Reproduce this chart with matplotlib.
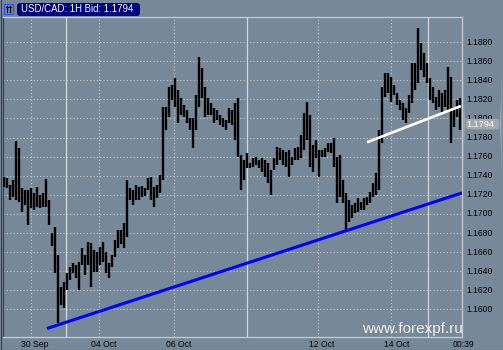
import matplotlib
matplotlib.use("Agg")
import matplotlib.pyplot as plt
from matplotlib.patches import FancyBboxPatch, Rectangle
from matplotlib.lines import Line2D
from matplotlib.transforms import IdentityTransform

plt.rcParams['font.family'] = ['Liberation Sans', 'DejaVu Sans']

# ---- data (hourly bars) ----
highs = [1.1739, 1.1738, 1.1730, 1.1736, 1.1776, 1.1769, 1.1727, 1.1725, 1.1725, 1.1727,
         1.1722, 1.1728, 1.1720, 1.1722, 1.1737, 1.1715, 1.1680, 1.1686, 1.1657, 1.1623,
         1.1629, 1.1638, 1.1644, 1.1649, 1.1647, 1.1650, 1.1664, 1.1657, 1.1671, 1.1670,
         1.1662, 1.1660, 1.1665, 1.1671, 1.1660, 1.1649, 1.1657, 1.1673, 1.1683, 1.1683,
         1.1691, 1.1736, 1.1727, 1.1725, 1.1730, 1.1728, 1.1729, 1.1727, 1.1738, 1.1739,
         1.1728, 1.1730, 1.1741, 1.1812, 1.1812, 1.1833, 1.1835, 1.1842, 1.1830, 1.1821,
         1.1814, 1.1809, 1.1800, 1.1800, 1.1824, 1.1864, 1.1853, 1.1833, 1.1821, 1.1816,
         1.1811, 1.1809, 1.1804, 1.1800, 1.1798, 1.1811, 1.1809, 1.1816, 1.1821, 1.1762,
         1.1756, 1.1764, 1.1753, 1.1759, 1.1760, 1.1756, 1.1759, 1.1756, 1.1753, 1.1746,
         1.1759, 1.1770, 1.1769, 1.1767, 1.1765, 1.1767, 1.1760, 1.1769, 1.1770, 1.1783,
         1.1806, 1.1817, 1.1804, 1.1772, 1.1777, 1.1767, 1.1767, 1.1769, 1.1774, 1.1774,
         1.1780, 1.1760, 1.1762, 1.1736, 1.1722, 1.1715, 1.1709, 1.1711, 1.1717, 1.1712,
         1.1717, 1.1718, 1.1723, 1.1732, 1.1743, 1.1788, 1.1833, 1.1848, 1.1848, 1.1843,
         1.1835, 1.1827, 1.1819, 1.1816, 1.1811, 1.1824, 1.1858, 1.1858, 1.1895, 1.1879,
         1.1868, 1.1858, 1.1842, 1.1833, 1.1822, 1.1830, 1.1827, 1.1830, 1.1854, 1.1843,
         1.1812, 1.1819, 1.1821]
lows = [1.1728, 1.1727, 1.1715, 1.1718, 1.1715, 1.1712, 1.1702, 1.1709, 1.1688, 1.1706,
        1.1704, 1.1707, 1.1706, 1.1707, 1.1707, 1.1688, 1.1666, 1.1638, 1.1586, 1.1605,
        1.1601, 1.1620, 1.1631, 1.1638, 1.1633, 1.1620, 1.1647, 1.1636, 1.1647, 1.1623,
        1.1639, 1.1639, 1.1647, 1.1650, 1.1638, 1.1633, 1.1644, 1.1655, 1.1664, 1.1668,
        1.1664, 1.1676, 1.1715, 1.1709, 1.1715, 1.1715, 1.1718, 1.1719, 1.1725, 1.1715,
        1.1707, 1.1717, 1.1722, 1.1736, 1.1788, 1.1801, 1.1819, 1.1812, 1.1795, 1.1804,
        1.1801, 1.1795, 1.1788, 1.1769, 1.1788, 1.1812, 1.1821, 1.1801, 1.1804, 1.1804,
        1.1795, 1.1798, 1.1793, 1.1791, 1.1788, 1.1795, 1.1793, 1.1777, 1.1760, 1.1725,
        1.1736, 1.1748, 1.1748, 1.1749, 1.1751, 1.1748, 1.1744, 1.1739, 1.1732, 1.1720,
        1.1746, 1.1751, 1.1756, 1.1751, 1.1749, 1.1739, 1.1751, 1.1756, 1.1756, 1.1759,
        1.1767, 1.1777, 1.1749, 1.1744, 1.1759, 1.1739, 1.1760, 1.1760, 1.1765, 1.1764,
        1.1749, 1.1711, 1.1718, 1.1711, 1.1681, 1.1692, 1.1696, 1.1701, 1.1702, 1.1704,
        1.1704, 1.1709, 1.1711, 1.1718, 1.1720, 1.1725, 1.1774, 1.1822, 1.1827, 1.1817,
        1.1824, 1.1814, 1.1809, 1.1798, 1.1795, 1.1806, 1.1816, 1.1830, 1.1837, 1.1851,
        1.1843, 1.1837, 1.1819, 1.1816, 1.1809, 1.1812, 1.1807, 1.1812, 1.1809, 1.1774,
        1.1791, 1.1801, 1.1788]
last_price = 1.1794
title_text = "USD/CAD: 1H Bid: 1.1794"
price_ticks = [1.1600, 1.1620, 1.1640, 1.1660, 1.1680, 1.1700, 1.1720, 1.1740,
               1.1760, 1.1780, 1.1800, 1.1820, 1.1840, 1.1860, 1.1880]
date_labels = ["30 Sep", "04 Oct", "06 Oct", "12 Oct", "14 Oct", "00:39"]
date_label_pos = [10.33, 33.33, 58.33, 106.0, 131.0, 153.3]
dotted_vgrid = [9.0, 31.67, 56.67, 104.67, 129.0]
solid_vgrid = [20.67, 81.0, 141.33]
support_x = [14.33, 152.67]
support_y = [1.1580, 1.1722]
resist_x = [121.0, 152.33]
resist_y = [1.1775, 1.1813]

BG = '#778899'
GRID = '#c8ccd0'

W, H = 503, 350
fig = plt.figure(figsize=(W / 100, H / 100), dpi=100, facecolor=BG)
ax = fig.add_axes([3 / W, 13 / H, 459 / W, 320 / H])
ax.set_facecolor(BG)
ax.set_xlim(-1 / 3, 458 / 3)
ax.set_ylim(1.15711, 1.19062)
ax.set_xticks([])
ax.set_yticks([])
for s in ['top', 'right', 'bottom']:
    ax.spines[s].set_color(GRID)
    ax.spines[s].set_linewidth(0.9)
ax.spines['left'].set_color('#3a3f44')
ax.spines['left'].set_linewidth(0.9)

# grid
for p in price_ticks:
    ax.axhline(p, color=GRID, lw=0.8, ls=(0, (1, 2)), zorder=1)
for xg in dotted_vgrid:
    ax.axvline(xg, color=GRID, lw=0.8, ls=(0, (1, 2)), zorder=1)
for xg in solid_vgrid:
    ax.axvline(xg, color='#d4d8dc', lw=0.9, zorder=1)

# bars
idx = list(range(len(highs)))
ax.vlines(idx, lows, highs, color='black', linewidth=1.7, zorder=3)

# trend lines
ax.plot(support_x, support_y, color='#0000ff', lw=2.2, zorder=4, solid_capstyle='butt')
ax.plot(resist_x, resist_y, color='white', lw=1.9, zorder=4, solid_capstyle='butt')

# price labels on right
ytr = ax.get_yaxis_transform()
for p in price_ticks:
    ax.text(1.0105, p, f"{p:.4f}", transform=ytr, ha='left', va='center',
            fontsize=6.2, color='black', clip_on=False, zorder=2)

# current price box (covers the neighbouring tick label, as in the original)
ax.add_patch(FancyBboxPatch((1.003, last_price - 0.00055), 0.083, 0.0011,
                            boxstyle="round,pad=0,rounding_size=0.008",
                            transform=ytr, facecolor='#a3a9af', edgecolor='none',
                            clip_on=False, zorder=5))
ax.text(1.0105, last_price, f"{last_price:.4f}", transform=ytr, ha='left', va='center',
        fontsize=6.6, color='white', clip_on=False, zorder=6)

# date labels
xtr = ax.get_xaxis_transform()
for lab, xp in zip(date_labels, date_label_pos):
    ax.text(xp, -0.022, lab, transform=xtr, ha='center', va='center',
            fontsize=6.2, color='black', clip_on=False)

# watermark
fig.text(463 / W, (H - 333) / H, "www.forexpf.ru", ha='right', va='baseline',
         fontsize=11, color='#f0f0f0')

# title box
idt = IdentityTransform()
fig.patches.append(FancyBboxPatch((17, H - 16), 123, 13,
                                  boxstyle="round,pad=0,rounding_size=3",
                                  transform=idt, facecolor='#000080', edgecolor='none'))
fig.text(21 / W, (H - 9.5) / H, title_text, ha='left', va='center',
         fontsize=6.9, color='white')
# icon
fig.patches.append(Rectangle((4, H - 14), 9, 10, transform=idt, facecolor='none',
                             edgecolor='#2050ff', lw=0.8))
fig.lines.append(Line2D([7, 7], [H - 12, H - 6], transform=idt, color='black', lw=0.8))
fig.lines.append(Line2D([10, 10], [H - 12, H - 6], transform=idt, color='black', lw=0.8))
fig.lines.append(Line2D([6, 11], [H - 7, H - 7], transform=idt, color='black', lw=0.8))

# outer dark edges
fig.lines.append(Line2D([0.5, 0.5], [0, H], transform=idt, color='#3a3f44', lw=0.8))
fig.lines.append(Line2D([0, W], [0.5, 0.5], transform=idt, color='#3a3f44', lw=0.8))

fig.savefig("out.png", dpi=100, facecolor=BG)
